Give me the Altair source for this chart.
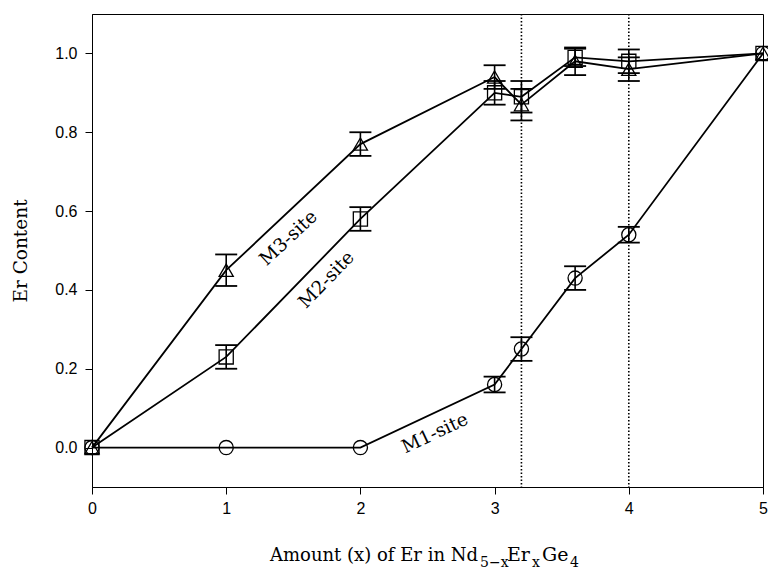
import altair as alt
import pandas as pd

# ---- data ----
x_vals = [0, 1, 2, 3, 3.2, 3.6, 4, 5]
m1 = [0.0, 0.0, 0.0, 0.16, 0.25, 0.43, 0.54, 1.0]
m1_err = [0, 0, 0, 0.02, 0.03, 0.03, 0.02, 0]
m2 = [0.0, 0.23, 0.58, 0.90, 0.89, 0.99, 0.98, 1.0]
m2_err = [0, 0.03, 0.03, 0.03, 0.04, 0.022, 0.03, 0]
m3 = [0.0, 0.45, 0.77, 0.94, 0.87, 0.98, 0.96, 1.0]
m3_err = [0, 0.04, 0.03, 0.03, 0.04, 0.035, 0.03, 0]
series_names = ["M1", "M2", "M3"]
series_shapes = ["circle", "square", "triangle-up"]
guide_x = [3.2, 4.0]
site_labels = ["M1-site", "M2-site", "M3-site"]
label_x = [2.554, 1.746, 1.463]
label_y = [0.037, 0.426, 0.532]
label_angle = [335, 314, 317]
x_ticks = [0, 1, 2, 3, 4, 5]
y_ticks = [0.0, 0.2, 0.4, 0.6, 0.8, 1.0]

rows = []
for name, ys, es in zip(series_names, [m1, m2, m3], [m1_err, m2_err, m3_err]):
    for xv, yv, ev in zip(x_vals, ys, es):
        rows.append({"series": name, "x": xv, "y": yv, "err": ev,
                     "lo": yv - ev, "hi": yv + ev})
df = pd.DataFrame(rows)
df_err = df[df["err"] > 0]
df_guides = pd.DataFrame({"x": guide_x})
df_labels = pd.DataFrame({"text": site_labels, "x": label_x, "y": label_y,
                          "angle": label_angle})

SERIF = "DejaVu Serif"
SANS = "Liberation Sans"

xscale = alt.Scale(domain=[0, 5], nice=False, zero=False)
yscale = alt.Scale(domain=[-0.1, 1.1], nice=False, zero=False)

X = alt.X("x:Q", scale=xscale,
          axis=alt.Axis(values=x_ticks, format="d", title=None, grid=False,
                        tickSize=7, labelPadding=6, labelFlush=False,
                        labelFont=SANS, labelFontSize=16, labelColor="black",
                        domainColor="black", tickColor="black"))
Y = alt.Y("y:Q", scale=yscale,
          axis=alt.Axis(values=y_ticks, format=".1f", title="Er Content",
                        grid=False, tickSize=7, labelPadding=8,
                        labelFont=SANS, labelFontSize=16, labelColor="black",
                        domainColor="black", tickColor="black",
                        titleFont=SERIF, titleFontSize=18.5,
                        titleFontWeight="normal", titleColor="black",
                        titlePadding=24))

guides = alt.Chart(df_guides).mark_rule(
    color="black", strokeWidth=1.6, strokeDash=[1.5, 2]
).encode(x=alt.X("x:Q", scale=xscale))

lines = alt.Chart(df).mark_line(color="black", strokeWidth=1.8).encode(
    x=X, y=Y, detail="series:N", order="x:Q")

points = alt.Chart(df).mark_point(
    filled=False, color="black", size=200, strokeWidth=1.3, opacity=1
).encode(
    x="x:Q", y="y:Q",
    shape=alt.Shape("series:N",
                    scale=alt.Scale(domain=series_names, range=series_shapes),
                    legend=None))

bars = alt.Chart(df_err).mark_rule(color="black", strokeWidth=1.6).encode(
    x="x:Q", y="lo:Q", y2="hi:Q")
caps_lo = alt.Chart(df_err).mark_tick(
    orient="horizontal", size=22, thickness=1.8, color="black", opacity=1
).encode(x="x:Q", y="lo:Q")
caps_hi = alt.Chart(df_err).mark_tick(
    orient="horizontal", size=22, thickness=1.8, color="black", opacity=1
).encode(x="x:Q", y="hi:Q")

labels = alt.Chart(df_labels).mark_text(
    font=SERIF, fontSize=18.5, color="black", align="center", baseline="middle"
).encode(x="x:Q", y="y:Q", text="text:N",
         angle=alt.Angle("angle:Q", scale=None))

# x-axis title with subscripts, built from text pieces
one = pd.DataFrame({"k": [0]})


def piece(txt, px, py, size, align="left"):
    return alt.Chart(one).mark_text(
        font=SERIF, fontSize=size, color="black", align=align,
        baseline="alphabetic"
    ).encode(x=alt.value(px), y=alt.value(py), text=alt.value(txt))


title_parts = [
    piece("Amount (x) of Er in Nd", 386, 547, 18, "right"),
    piece("5\u2212x", 388, 553, 14),
    piece("Er", 415, 547, 19),
    piece("x", 440, 553, 14),
    piece("Ge", 450, 547, 19),
    piece("4", 478, 553, 14),
]

chart = alt.layer(
    guides, lines, bars, caps_lo, caps_hi, points, labels, *title_parts
).properties(
    width=671, height=473,
    padding={"left": 92, "top": 14, "right": 5, "bottom": 84},
    autosize=alt.AutoSizeParams(type="none"),
    background="white",
).configure_view(stroke="black", strokeWidth=1)

chart.save("out.html", embed_options={"renderer": "svg", "actions": False})
